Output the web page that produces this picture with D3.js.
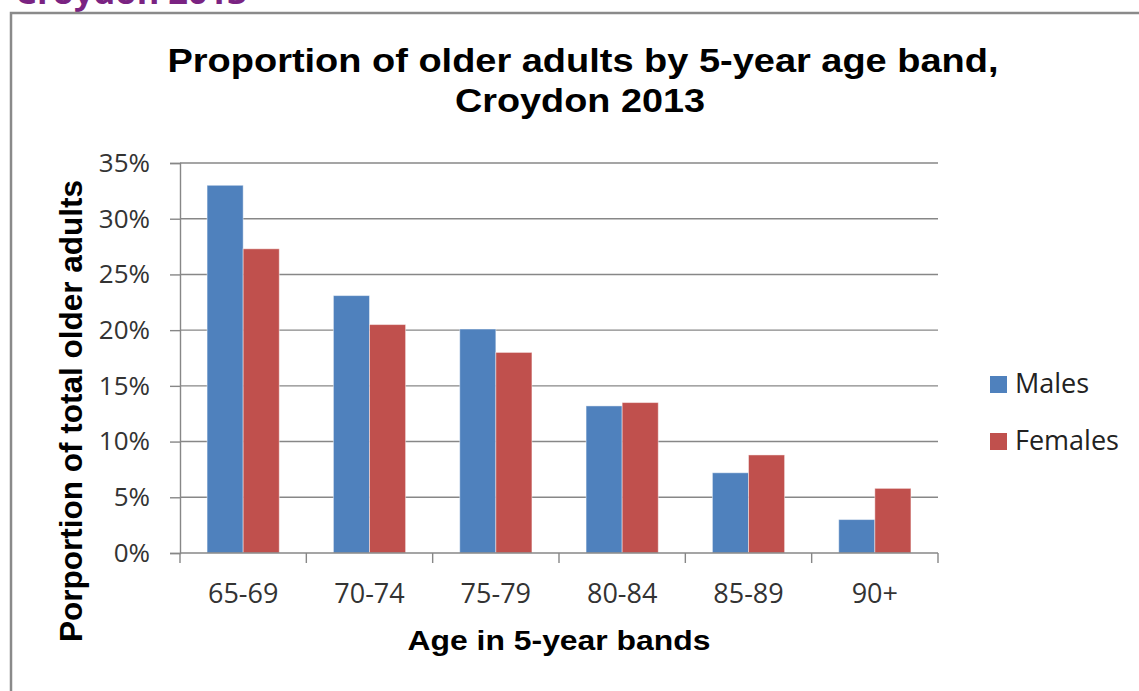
<!DOCTYPE html>
<html>
<head>
<meta charset="utf-8">
<script src="https://cdn.jsdelivr.net/npm/d3@7"></script>
<style>
  html, body { margin: 0; padding: 0; background: #fff; }
  svg { display: block; }
</style>
</head>
<body>
<svg id="chart" width="1139" height="691"></svg>
<script>
// Age bands and share of all older adults (per cent) by sex
const ageBands = ["65-69", "70-74", "75-79", "80-84", "85-89", "90+"];
const seriesNames = ["Males", "Females"];
const malesPct = [33.0, 23.1, 20.1, 13.2, 7.2, 3.0];
const femalesPct = [27.3, 20.5, 18.0, 13.5, 8.8, 5.8];
const yTicks = [0, 5, 10, 15, 20, 25, 30, 35];
const seriesColors = ["#4F81BD", "#C0504D"];

const svg = d3.select("#chart");
const W = 1139, H = 691;
const labelFont = "Open Sans, sans-serif";
const boldFont = "Liberation Sans, Arial, sans-serif";

// Heading above the chart frame (partly cut off at the top edge)
svg.append("text")
  .attr("x", 15).attr("y", 4)
  .attr("font-family", labelFont)
  .attr("font-weight", "bold")
  .attr("font-size", 32)
  .attr("textLength", 232).attr("lengthAdjust", "spacingAndGlyphs")
  .attr("fill", "#7A2382")
  .text("Croydon 2013");

// Chart frame
svg.append("rect")
  .attr("x", 11).attr("y", 13)
  .attr("width", W + 20).attr("height", H + 20)
  .attr("fill", "#fff")
  .attr("stroke", "#8a8a8a")
  .attr("stroke-width", 2.5);

const plot = { left: 180, right: 938, top: 163, bottom: 553 };

const x = d3.scaleBand()
  .domain(ageBands)
  .range([plot.left, plot.right])
  .paddingInner(0).paddingOuter(0);

// Two touching bars per band with a gap of 150% of a bar width between groups
const xInner = d3.scaleBand()
  .domain(seriesNames)
  .range([0, x.bandwidth()])
  .paddingInner(0)
  .paddingOuter(0.75);

const y = d3.scaleLinear()
  .domain([0, 35])
  .range([plot.bottom, plot.top]);

// Horizontal gridlines
svg.append("g")
  .selectAll("line")
  .data(yTicks.filter(d => d > 0))
  .join("line")
  .attr("x1", plot.left).attr("x2", plot.right)
  .attr("y1", d => y(d)).attr("y2", d => y(d))
  .attr("stroke", "#878787")
  .attr("stroke-width", 1.4);

// Bars
const rows = ageBands.map((band, i) => ({ band, values: [malesPct[i], femalesPct[i]] }));
svg.append("g")
  .selectAll("g")
  .data(rows)
  .join("g")
  .attr("transform", d => `translate(${x(d.band)},0)`)
  .selectAll("rect")
  .data(d => d.values.map((v, j) => ({ name: seriesNames[j], v, j })))
  .join("rect")
  .attr("x", d => xInner(d.name))
  .attr("width", xInner.bandwidth())
  .attr("y", d => y(d.v))
  .attr("height", d => y(0) - y(d.v))
  .attr("fill", d => seriesColors[d.j])
  .attr("stroke", "rgba(255,255,255,0.45)")
  .attr("stroke-width", 1);

// Y axis
const yAxis = d3.axisLeft(y)
  .tickValues(yTicks)
  .tickSize(10)
  .tickPadding(20)
  .tickFormat(d => d + "%");
const gy = svg.append("g")
  .attr("transform", `translate(${plot.left},0)`)
  .call(yAxis);
gy.select(".domain").attr("stroke", "#878787").attr("stroke-width", 1.4);
gy.selectAll(".tick line").attr("stroke", "#878787").attr("stroke-width", 1.4);
gy.selectAll(".tick text")
  .attr("font-family", labelFont)
  .attr("font-size", 26)
  .attr("fill", "#333");

// X axis: tick marks at band boundaries, labels at band centres
const gx = svg.append("g")
  .attr("transform", `translate(0,${plot.bottom})`);
gx.append("line")
  .attr("x1", plot.left).attr("x2", plot.right)
  .attr("stroke", "#878787").attr("stroke-width", 1.4);
const bounds = ageBands.map(b => x(b)).concat([x(ageBands[ageBands.length - 1]) + x.bandwidth()]);
gx.selectAll("line.tk")
  .data(bounds)
  .join("line")
  .attr("class", "tk")
  .attr("x1", d => d).attr("x2", d => d)
  .attr("y1", 0).attr("y2", 10)
  .attr("stroke", "#878787").attr("stroke-width", 1.4);
gx.selectAll("text")
  .data(ageBands)
  .join("text")
  .attr("x", d => x(d) + x.bandwidth() / 2)
  .attr("y", 50)
  .attr("text-anchor", "middle")
  .attr("font-family", labelFont)
  .attr("font-size", 27)
  .attr("fill", "#333")
  .text(d => d);

// Title
const title = svg.append("g")
  .attr("font-family", boldFont)
  .attr("font-weight", "bold")
  .attr("font-size", 34)
  .attr("fill", "#000")
  .attr("text-anchor", "middle");
title.append("text")
  .attr("x", 583).attr("y", 72)
  .attr("textLength", 831).attr("lengthAdjust", "spacingAndGlyphs")
  .text("Proportion of older adults by 5-year age band,");
title.append("text")
  .attr("x", 580).attr("y", 112)
  .attr("textLength", 250).attr("lengthAdjust", "spacingAndGlyphs")
  .text("Croydon 2013");

// Axis titles
svg.append("text")
  .attr("transform", `translate(82,411) rotate(-90)`)
  .attr("text-anchor", "middle")
  .attr("font-family", boldFont)
  .attr("font-weight", "bold")
  .attr("font-size", 31)
  .attr("textLength", 462).attr("lengthAdjust", "spacingAndGlyphs")
  .text("Porportion of total older adults");

svg.append("text")
  .attr("x", 559).attr("y", 650)
  .attr("text-anchor", "middle")
  .attr("font-family", boldFont)
  .attr("font-weight", "bold")
  .attr("font-size", 27)
  .attr("textLength", 303).attr("lengthAdjust", "spacingAndGlyphs")
  .text("Age in 5-year bands");

// Legend
const legend = svg.append("g")
  .selectAll("g")
  .data(seriesNames)
  .join("g")
  .attr("transform", (d, i) => `translate(990,${376 + i * 57})`);
legend.append("rect")
  .attr("width", 17).attr("height", 17)
  .attr("fill", (d, i) => seriesColors[i]);
legend.append("text")
  .attr("x", 25).attr("y", 17)
  .attr("font-family", labelFont)
  .attr("font-size", 27)
  .attr("fill", "#222")
  .text(d => d);
</script>
</body>
</html>
